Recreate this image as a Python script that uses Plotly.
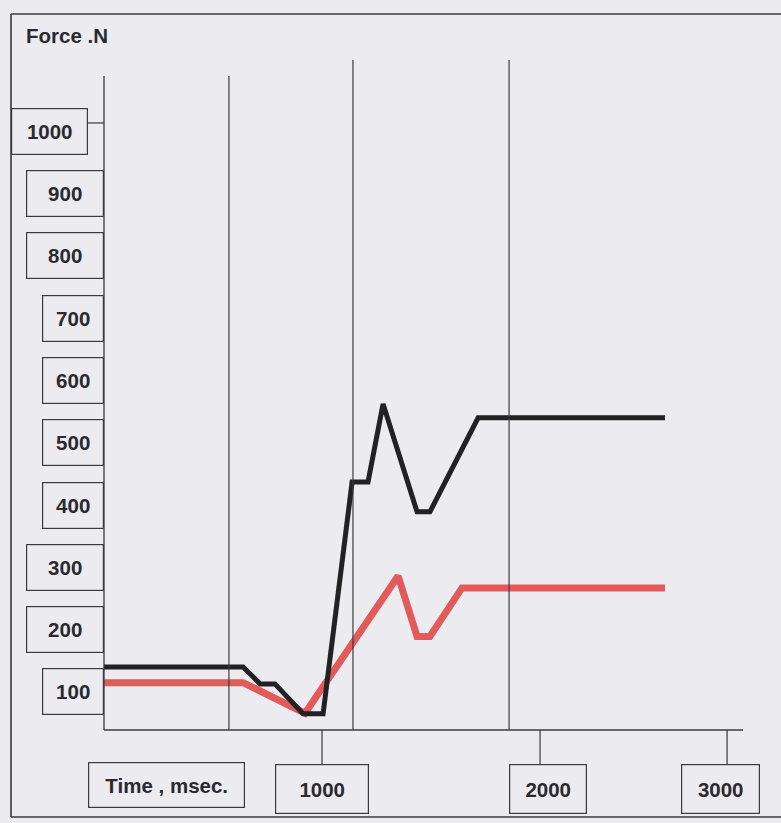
import plotly.graph_objects as go

# ---------------- data ----------------
black_t = [0, 638, 716, 784, 913, 1005, 1138, 1211, 1280, 1436, 1495, 1716, 2573]
black_f = [140, 140, 113, 113, 65, 65, 437, 437, 562, 389, 389, 540, 540]

red_t = [0, 638, 922, 1349, 1436, 1495, 1642, 2573]
red_f = [115, 115, 66, 286, 189, 189, 267, 267]

grid_t = [573, 1142, 1858]          # vertical divider lines (ms)
y_ticks = [100, 200, 300, 400, 500, 600, 700, 800, 900, 1000]
y_labels = [str(v) for v in y_ticks]
x_ticks = [1000, 2000, 2858]
x_labels = ["1000", "2000", "3000"]

y_title = "Force .N"
x_title = "Time , msec."

# ---------------- layout geometry ----------------
W, H = 781, 823
L, R, T, B = 104, 38, 60, 93
PW, PH = W - L - R, H - T - B
XR = [0, 2931]
YR = [39, 1114]

def px(xp):   # pixel x -> paper
    return (xp - L) / PW

def py(yp):   # pixel y -> paper
    return (H - B - yp) / PH

BG = "#ebebf0"
INK = "#3a3a3f"
TXT = "#2a2a2e"
FONT = dict(family="Liberation Sans, Arial, sans-serif", size=20.5, color=TXT)

fig = go.Figure()
fig.add_trace(go.Scatter(x=red_t, y=red_f, mode="lines",
                         line=dict(color="#e35a5a", width=7), hoverinfo="skip"))
fig.add_trace(go.Scatter(x=black_t, y=black_f, mode="lines",
                         line=dict(color="#222225", width=5), hoverinfo="skip"))

shapes = []
# outer frame (top, left, bottom)
for (x0, y0, x1, y1) in [(11, 14, 781, 14), (11, 14, 11, 817), (11, 817, 781, 817)]:
    shapes.append(dict(type="line", xref="paper", yref="paper",
                       x0=px(x0), y0=py(y0), x1=px(x1), y1=py(y1),
                       line=dict(color=INK, width=1.6)))
# axes
shapes.append(dict(type="line", xref="paper", yref="paper", x0=0, x1=0,
                   y0=0, y1=py(76), line=dict(color=INK, width=1.3)))
shapes.append(dict(type="line", xref="paper", yref="paper", x0=0, x1=1,
                   y0=0, y1=0, line=dict(color=INK, width=1.3)))
# vertical dividers
tops = [76, 60, 60]
for t, tp in zip(grid_t, tops):
    shapes.append(dict(type="line", xref="x", yref="paper", x0=t, x1=t,
                       y0=0, y1=py(tp), line=dict(color=INK, width=1.2)))
# x tick stems
for t in x_ticks:
    shapes.append(dict(type="line", xref="x", yref="paper", x0=t, x1=t,
                       y0=0, y1=py(764), line=dict(color=INK, width=1.2)))
# y 1000 tick stem
shapes.append(dict(type="line", xref="paper", yref="y", x0=px(88), x1=0,
                   y0=1013, y1=1013, line=dict(color=INK, width=1.2)))

annotations = []
# y label boxes: (right edge px, width px)
y_box = {100: (104, 62), 200: (104, 78), 300: (104, 78), 400: (104, 62),
         500: (104, 62), 600: (104, 62), 700: (104, 62), 800: (104, 78),
         900: (104, 78), 1000: (88, 77)}
for v, lab in zip(y_ticks, y_labels):
    right, w = y_box[v]
    annotations.append(dict(xref="paper", yref="y", x=px(right), y=v,
                            xanchor="right", yanchor="middle",
                            text="<b>%s</b>" % lab, showarrow=False,
                            width=w - 2, height=45, align="center", valign="middle",
                            bordercolor=INK, borderwidth=1.2, borderpad=0,
                            font=FONT))
# x label boxes
x_box_w = [92, 76, 77]
x_box_shift = [0, 8, -7]
for t, lab, w, s in zip(x_ticks, x_labels, x_box_w, x_box_shift):
    annotations.append(dict(xref="x", yref="paper", x=t, y=py(764),
                            xanchor="center", yanchor="top", xshift=s,
                            text="<b>%s</b>" % lab, showarrow=False,
                            width=w, height=48, align="center", valign="middle",
                            bordercolor=INK, borderwidth=1.2, borderpad=0,
                            font=FONT))
# x title box
annotations.append(dict(xref="paper", yref="paper", x=px(88), y=py(762),
                        xanchor="left", yanchor="top",
                        text="<b>%s</b>" % x_title, showarrow=False,
                        width=155, height=44, align="center", valign="middle",
                        bordercolor=INK, borderwidth=1.2, borderpad=0,
                        font=FONT))
# y title
annotations.append(dict(xref="paper", yref="paper", x=px(24), y=py(35),
                        xanchor="left", yanchor="middle",
                        text="<b>%s</b>" % y_title, showarrow=False,
                        font=FONT))

fig.update_layout(
    width=W, height=H,
    margin=dict(l=L, r=R, t=T, b=B),
    paper_bgcolor=BG, plot_bgcolor=BG,
    showlegend=False,
    xaxis=dict(range=XR, visible=False, fixedrange=True),
    yaxis=dict(range=YR, visible=False, fixedrange=True),
    shapes=shapes,
    annotations=annotations,
)

fig.write_html("out.html",
               config=dict(displayModeBar=False, staticPlot=True),
               post_script="document.body.style.margin='0';"
                           "document.body.style.overflow='hidden';"
                           "document.body.style.background='%s';" % BG)
